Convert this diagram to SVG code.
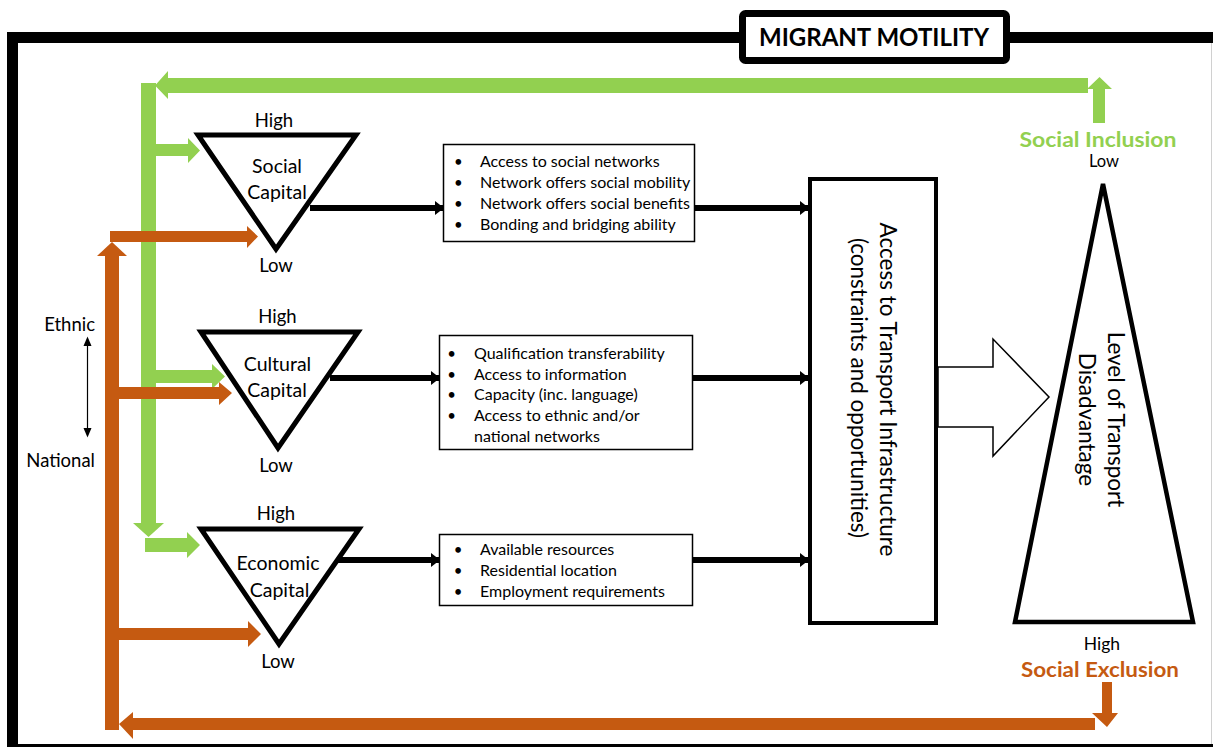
<svg xmlns="http://www.w3.org/2000/svg" width="1213" height="747" viewBox="0 0 1213 747">
  <defs>
    <style>
      text { font-family: Lato, "Open Sans", "Liberation Sans", sans-serif; fill: #000; }
      .lbl { font-size: 18.5px; text-anchor: middle; }
      .cap { font-size: 19.5px; text-anchor: middle; }
      .item { font-size: 16px; }
      .bul { font-size: 15px; text-anchor: middle; }
      .vert { font-size: 22.5px; text-anchor: middle; }
      .tri { fill: #fff; stroke: #000; stroke-width: 5; stroke-linejoin: miter; }
      .box { fill: #fff; stroke: #000; stroke-width: 1.5; }
      .green { fill: #92d050; }
      .orange { fill: #c55a11; }
      .flow { stroke: #000; stroke-width: 6; fill: none; marker-end: url(#head); }
    </style>
    <marker id="head" viewBox="0 0 9 14" markerWidth="9" markerHeight="14" refX="8" refY="7" orient="auto" markerUnits="userSpaceOnUse">
      <path d="M0,0 L9,7 L0,14 z" fill="#000"/>
    </marker>
  </defs>

  <!-- outer frame -->
  <rect x="0" y="0" width="1213" height="747" fill="#fff"/>
  <rect x="12.5" y="37.5" width="1220" height="712" fill="none" stroke="#000" stroke-width="11"/>
  <line x1="1211.5" y1="43" x2="1211.5" y2="744" stroke="#d0d0d0" stroke-width="1"/>

  <!-- title -->
  <g id="title">
    <rect x="742.5" y="13.5" width="264" height="47" rx="3" fill="#fff" stroke="#000" stroke-width="7"/>
    <text x="874" y="46" font-size="25" font-weight="bold" text-anchor="middle" textLength="230" lengthAdjust="spacingAndGlyphs">MIGRANT MOTILITY</text>
  </g>

  <!-- connectors -->
  <g id="connectors">
    <!-- social inclusion feedback (green) -->
    <g class="green">
      <polygon points="1088,78 168,78 168,71 155,85.5 168,99 168,93 1088,93"/>
      <polygon points="1093,123 1093,89 1087,89 1099.5,77 1112,89 1105,89 1105,123"/>
      <rect x="141" y="83" width="15" height="440"/>
      <polygon points="133,523 164,523 148.5,537"/>
      <polygon points="156,144 188,144 188,138 200,150.5 188,163 188,156 156,156"/>
      <polygon points="156,370 212,370 212,364 225,376.5 212,389 212,383 156,383"/>
      <polygon points="145,538 187,538 187,532 200,545 187,558 187,552 145,552"/>
    </g>
    <!-- social exclusion feedback (orange) -->
    <g class="orange">
      <rect x="105" y="256" width="14" height="474"/>
      <polygon points="97,256 112,242 127,256"/>
      <polygon points="110,231 247,231 247,226 258,236.5 247,248 247,242 110,242"/>
      <polygon points="119,387 219,387 219,382 232,393 219,405 219,399 119,399"/>
      <polygon points="119,628 248,628 248,621 261,634 248,647 248,640 119,640"/>
      <polygon points="1095,718 133,718 133,712 119,724 133,739 133,730 1095,730"/>
      <polygon points="1102,682 1112,682 1112,713 1118,713 1107,727 1092,713 1102,713"/>
    </g>
    <!-- capital to factors to infrastructure -->
    <line class="flow" x1="310" y1="208" x2="443" y2="208"/>
    <line class="flow" x1="695" y1="208" x2="808" y2="208"/>
    <line class="flow" x1="330" y1="378" x2="439" y2="378"/>
    <line class="flow" x1="693" y1="378" x2="808" y2="378"/>
    <line class="flow" x1="338" y1="560" x2="439" y2="560"/>
    <line class="flow" x1="693" y1="560" x2="808" y2="560"/>
    <!-- infrastructure to disadvantage -->
    <polygon points="938,367 993,367 993,339 1049,397 993,456 993,427 938,427" fill="#fff" stroke="#000" stroke-width="1.5"/>
    <!-- ethnic / national scale -->
    <line x1="87.5" y1="344" x2="87.5" y2="430" stroke="#000" stroke-width="1.2"/>
    <polygon points="83.5,346 87.5,336.5 91.5,346" fill="#000"/>
    <polygon points="83.5,428 87.5,437.5 91.5,428" fill="#000"/>
  </g>

  <g id="scale-labels">
    <text x="95" y="330.7" font-size="18.5" text-anchor="end">Ethnic</text>
    <text x="95" y="466.7" font-size="18.5" text-anchor="end">National</text>
  </g>

  <!-- social capital -->
  <g id="social-capital">
    <polygon class="tri" points="198,135 356,135 276,249"/>
    <text class="lbl" x="274" y="126.5">High</text>
    <text class="cap" x="277" y="173">Social</text>
    <text class="cap" x="277" y="199">Capital</text>
    <text class="lbl" x="276" y="271.7">Low</text>
  </g>

  <!-- cultural capital -->
  <g id="cultural-capital">
    <polygon class="tri" points="201,332 358,332 278,448"/>
    <text class="lbl" x="277.5" y="322.7">High</text>
    <text class="cap" x="277.5" y="370.7">Cultural</text>
    <text class="cap" x="277" y="396.7">Capital</text>
    <text class="lbl" x="276" y="471.7">Low</text>
  </g>

  <!-- economic capital -->
  <g id="economic-capital">
    <polygon class="tri" points="201,529 359,529 279,644"/>
    <text class="lbl" x="276" y="520">High</text>
    <text class="cap" x="278" y="570">Economic</text>
    <text class="cap" x="279.5" y="596.7">Capital</text>
    <text class="lbl" x="278" y="668.3">Low</text>
  </g>

  <!-- social factors -->
  <g id="social-factors">
    <rect class="box" x="443.5" y="144.5" width="251" height="97"/>
    <text class="bul" x="458.3" y="167.3">•</text>
    <text class="bul" x="458.3" y="188.3">•</text>
    <text class="bul" x="458.3" y="209.3">•</text>
    <text class="bul" x="458.3" y="230.3">•</text>
    <text class="item" x="480" y="167.3">Access to social networks</text>
    <text class="item" x="480" y="188.3">Network offers social mobility</text>
    <text class="item" x="480" y="209.3">Network offers social benefits</text>
    <text class="item" x="480" y="230.3">Bonding and bridging ability</text>
  </g>

  <!-- cultural factors -->
  <g id="cultural-factors">
    <rect class="box" x="439.5" y="335.5" width="253" height="114"/>
    <text class="bul" x="451.7" y="359">•</text>
    <text class="bul" x="451.7" y="379.7">•</text>
    <text class="bul" x="451.7" y="400.4">•</text>
    <text class="bul" x="451.7" y="421.1">•</text>
    <text class="item" x="474" y="359">Qualification transferability</text>
    <text class="item" x="474" y="379.7">Access to information</text>
    <text class="item" x="474" y="400.4">Capacity (inc. language)</text>
    <text class="item" x="474" y="421.1">Access to ethnic and/or</text>
    <text class="item" x="474" y="441.8">national networks</text>
  </g>

  <!-- economic factors -->
  <g id="economic-factors">
    <rect class="box" x="439.5" y="534.5" width="253" height="71"/>
    <text class="bul" x="458" y="555">•</text>
    <text class="bul" x="458" y="576">•</text>
    <text class="bul" x="458" y="597">•</text>
    <text class="item" x="480" y="555">Available resources</text>
    <text class="item" x="480" y="576">Residential location</text>
    <text class="item" x="480" y="597">Employment requirements</text>
  </g>

  <!-- transport infrastructure -->
  <g id="infrastructure">
    <rect x="810" y="179" width="126" height="444" fill="#fff" stroke="#000" stroke-width="4"/>
    <text class="vert" transform="translate(880,389.5) rotate(90)">Access to Transport Infrastructure</text>
    <text class="vert" transform="translate(851,388) rotate(90)">(constraints and opportunities)</text>
  </g>

  <!-- level of transport disadvantage -->
  <g id="disadvantage">
    <polygon points="1103,184 1015,622 1193,622" fill="#fff" stroke="#000" stroke-width="4.5"/>
    <text class="vert" transform="translate(1108,419.5) rotate(90)">Level of Transport</text>
    <text class="vert" transform="translate(1079,419.5) rotate(90)">Disadvantage</text>
    <text x="1104" y="166.7" font-size="16.5" text-anchor="middle">Low</text>
    <text x="1098" y="146.7" font-size="21.5" font-weight="bold" text-anchor="middle" textLength="157" lengthAdjust="spacingAndGlyphs" style="fill:#92d050">Social Inclusion</text>
    <text x="1102" y="650" font-size="17.5" text-anchor="middle">High</text>
    <text x="1100" y="677.3" font-size="21.5" font-weight="bold" text-anchor="middle" textLength="158" lengthAdjust="spacingAndGlyphs" style="fill:#c55a11">Social Exclusion</text>
  </g>
</svg>
